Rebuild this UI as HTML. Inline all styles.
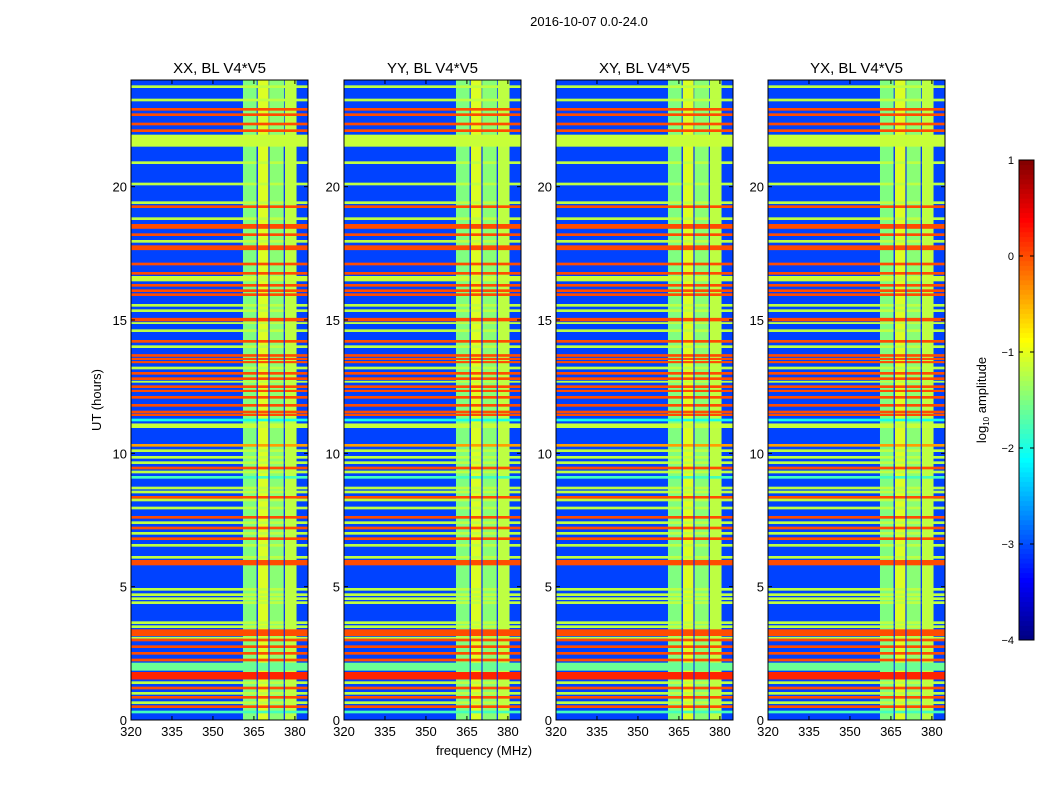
<!DOCTYPE html>
<html><head><meta charset="utf-8"><style>
body{margin:0;background:#fff;font-family:"Liberation Sans",sans-serif}
svg text{font-family:"Liberation Sans",sans-serif}
</style></head><body>
<svg id="fig" width="1050" height="800" viewBox="0 0 1050 800" xmlns="http://www.w3.org/2000/svg">
<rect width="1050" height="800" fill="#fff"/>
<text x="589" y="26" font-size="13" text-anchor="middle">2016-10-07 0.0-24.0</text>
<text x="484" y="755" font-size="13" text-anchor="middle">frequency (MHz)</text>
<text transform="translate(101,400) rotate(-90)" font-size="13" text-anchor="middle">UT (hours)</text>
<g id="panels"></g>
<g id="cbar"></g>
<text transform="translate(986,400) rotate(-90)" font-size="13" text-anchor="middle">log<tspan font-size="8" dy="3">10</tspan><tspan dy="-3"> amplitude</tspan></text>
</svg>
<script>
const panelTitles=["XX, BL V4*V5","YY, BL V4*V5","XY, BL V4*V5","YX, BL V4*V5"];
const xTicks=[320,335,350,365,380];
const yTicks=[0,5,10,15,20];
const cbTicks=[1,0,-1,-2,-3,-4];
const bgValue=-3.05;
// vertical RFI band (freq start, end, value)
const colStart=[361,366.4,370.6,376.3];
const colEnd=[366,370.4,376,380.6];
const colValue=[-1.5,-1.05,-1.45,-1.2];
const darkFreq=[366.2,370.5,376.1];
// horizontal bands: start hour, end hour, value
const rowStart=[23.7,23.2,22.85,22.65,22.3,22.05,21.5,20.85,20.05,19.35,19.2,18.75,18.42,18.15,17.9,17.62,17.05,16.7,16.45,16.25,16.05,15.9,15.5,15.3,14.95,14.85,14.55,14.15,13.95,13.62,13.5,13.38,13.15,12.95,12.75,12.65,12.45,12.3,12.05,11.75,11.5,11.4,11.2,10.95,10.25,10.05,9.8,9.6,9.4,9.25,9.05,8.65,8.5,8.3,8.2,7.9,7.55,7.35,7.15,6.95,6.75,6.5,6.05,5.8,4.85,4.65,4.5,4.35,3.6,3.45,3.15,3.05,2.95,2.7,2.45,2.2,1.85,1.52,1.35,1.15,0.95,0.8,0.6,0.45,0.25];
const rowEnd=  [23.8,23.3,22.95,22.75,22.4,22.15,21.95,20.95,20.15,19.45,19.3,18.85,18.6,18.25,18.0,17.8,17.15,16.8,16.65,16.35,16.15,16.0,15.6,15.4,15.08,14.92,14.65,14.25,14.05,13.72,13.58,13.46,13.25,13.05,12.85,12.72,12.55,12.38,12.15,11.85,11.6,11.48,11.3,11.12,10.35,10.15,9.9,9.7,9.5,9.35,9.15,8.75,8.6,8.4,8.3,8.0,7.65,7.45,7.25,7.05,6.85,6.6,6.15,6.0,4.95,4.75,4.6,4.45,3.7,3.55,3.4,3.12,3.05,2.8,2.55,2.3,2.15,1.8,1.45,1.25,1.05,0.9,0.7,0.55,0.35];
const rowValue=[-1.2,-1.2,0,0,0,0,-1.15,-1.2,-1.2,-1.2,0,-1.2,0,0,-1.2,0,0,0,-1.15,0,0,0,-1.2,-1.2,0,-1.2,-1.2,0,-1.2,0,0,0,-1.2,0,0,-1.2,0,0,0,0,0,0,-2,-1.15,-0.4,-1.2,-1.2,-1.2,0,-1.2,-1.8,-1.2,-1.2,0,-1.2,-1.2,0,-1.2,0,-1.2,0,-1.2,-1.2,0,-1.2,-1.2,-1.2,-1.2,-1.2,-1.2,0,-1.2,0,0,0,0,-1.6,0.2,-1.2,0,-1.2,0,-1.2,0,-1.8];

function jet(v){
  let t=(v+4)/5; t=Math.max(0,Math.min(1,t));
  const f=x=>Math.round(255*Math.max(0,Math.min(1,x)));
  return `rgb(${f(1.5-Math.abs(4*t-3))},${f(1.5-Math.abs(4*t-2))},${f(1.5-Math.abs(4*t-1))})`;
}
const NS="http://www.w3.org/2000/svg";
function mk(tag,attrs,parent){const e=document.createElementNS(NS,tag);for(const k in attrs)e.setAttribute(k,attrs[k]);parent.appendChild(e);return e;}
const panelX=[131,344,556,768], pw=177, ptop=80, pbottom=720;
const fmin=320,fmax=384.8,hmin=0,hmax=24;
const panels=document.getElementById('panels');
panelX.forEach((px,pi)=>{
  const xs=f=>px+(f-fmin)/(fmax-fmin)*pw;
  const ys=h=>pbottom-(h-hmin)/(hmax-hmin)*(pbottom-ptop);
  const g=mk('g',{},panels);
  
  
  const bg=mk('rect',{x:px,y:ptop,width:pw,height:pbottom-ptop,fill:jet(bgValue)},g);
  
  
  colStart.forEach((s,i)=>{
    const r=mk('rect',{x:xs(s),y:ptop,width:xs(colEnd[i])-xs(s),height:pbottom-ptop,fill:jet(colValue[i])},g);
    
    
  });
  rowStart.forEach((s,i)=>{
    const y1=ys(rowEnd[i]),y2=ys(s);
    const r=mk('rect',{x:px,y:y1,width:pw,height:Math.max(1,y2-y1),fill:jet(rowValue[i])},g);
    
    
  });
  darkFreq.forEach(f=>{
    const r=mk('rect',{x:xs(f)-0.6,y:ys(21.5),width:1.3,height:ys(0)-ys(21.5),fill:jet(-3.2),opacity:0.8},g);
    
    
  });
  const fr=mk('rect',{x:px,y:ptop,width:pw,height:pbottom-ptop,fill:'none',stroke:'#000','stroke-width':1},g);
  
  
  const t=mk('text',{x:px+pw/2,y:73,'font-size':15,'text-anchor':'middle'},g);
  t.textContent=panelTitles[pi];
  
  
  xTicks.forEach(v=>{
    const x=xs(v);
    mk('line',{x1:x,x2:x,y1:pbottom,y2:pbottom-4,stroke:'#000'},g);
    mk('line',{x1:x,x2:x,y1:ptop,y2:ptop+4,stroke:'#000'},g);
    const l=mk('text',{x:x,y:pbottom+16,'font-size':13,'text-anchor':'middle'},g);
    l.textContent=v;
    
    
  });
  yTicks.forEach(v=>{
    const y=ys(v);
    mk('line',{x1:px,x2:px+4,y1:y,y2:y,stroke:'#000'},g);
    mk('line',{x1:px+pw,x2:px+pw-4,y1:y,y2:y,stroke:'#000'},g);
    const l=mk('text',{x:px-4,y:y+5,'font-size':13,'text-anchor':'end'},g);
    l.textContent=v;
    
    
  });
});
// colorbar
const cb=document.getElementById('cbar');
const cbx=1019,cbw=15,cbt=160,cbb=640;
const cy=v=>cbb-(v+4)/5*(cbb-cbt);
for(let i=0;i<100;i++){
  const v0=-4+i*0.05;
  mk('rect',{x:cbx,y:cy(v0+0.05)-0.3,width:cbw,height:(cbb-cbt)/100+0.6,fill:jet(v0+0.025)},cb);
}
mk('rect',{x:cbx,y:cbt,width:cbw,height:cbb-cbt,fill:'none',stroke:'#000'},cb);
cbTicks.forEach(v=>{
  const y=cy(v);
  mk('line',{x1:cbx,x2:cbx+4,y1:y,y2:y,stroke:'#000'},cb);
  mk('line',{x1:cbx+cbw,x2:cbx+cbw-4,y1:y,y2:y,stroke:'#000'},cb);
  const l=mk('text',{x:cbx-5,y:y+4,'font-size':11,'text-anchor':'end'},cb);
  l.textContent=v<0?'\u2212'+(-v):v;
  
  
});
</script>
</body></html>
